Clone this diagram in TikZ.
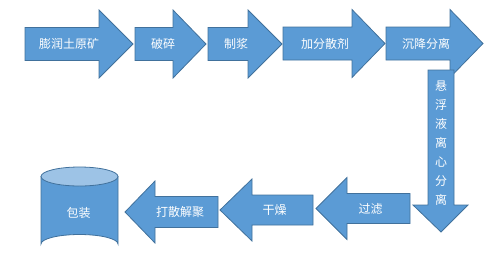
\documentclass[tikz,border=0pt]{standalone}
\usepackage{fontspec}
\newfontfamily\cjk{Noto Sans CJK SC}
\definecolor{afill}{HTML}{5B9BD5}
\definecolor{aline}{HTML}{41719C}
\definecolor{atop}{HTML}{9DC3E6}
\tikzset{
  arrowshape/.style={fill=afill,draw=aline,line width=0.8pt,line join=miter},
  lbl/.style={text=white,font=\cjk\fontsize{12}{14}\selectfont,inner sep=0pt},
}
% arrow: x0 body start, x1 head base, x2 tip, yc center, bh body half, hh head half
\newcommand{\harr}[6]{\path[arrowshape] (#1,#4-#5) -- (#2,#4-#5) -- (#2,#4-#6) -- (#3,#4) -- (#2,#4+#6) -- (#2,#4+#5) -- (#1,#4+#5) -- cycle;}
\begin{document}
\begin{tikzpicture}[x=1pt,y=-1pt]
\useasboundingbox (0,0) rectangle (500,269);
% top row
\harr{25}{99}{133}{44}{16.5}{34}
\harr{135}{173}{206}{44}{16.5}{34}
\harr{208}{248}{282}{44}{16.5}{34}
\harr{283}{352}{385}{43.5}{16.5}{34}
\harr{386}{450}{483}{43.5}{16.5}{34}
% vertical arrow
\path[arrowshape] (428,70) -- (454,70) -- (454,205) -- (468,205) -- (441,232) -- (413,205) -- (428,205) -- cycle;
% bottom row (left-pointing)
\harr{410}{347}{316}{208.5}{15}{31}
\harr{313}{252}{220}{210}{15}{31}
\harr{218}{155}{125}{212}{15.5}{31}
% cylinder
\path[arrowshape] (41,176.5) -- (41,244) arc[start angle=180,end angle=360,x radius=38.5,y radius=9.5] -- (118,176.5) -- cycle;
\path[arrowshape,fill=atop] (79.5,176.5) ellipse[x radius=38.5,y radius=9.5];
% labels
\node[lbl] (n1) at (69,44) {膨润土原矿};
\node[lbl] (n2) at (163,44) {破碎};
\node[lbl] (n3) at (236,44) {制浆};
\node[lbl] (n4) at (325,44) {加分散剂};
\node[lbl] (n5) at (426,44) {沉降分离};
\node[lbl,align=center,font=\cjk\fontsize{12}{19}\selectfont] (n6) at (441,143) {悬\\浮\\液\\离\\心\\分\\离};
\node[lbl] (n7) at (370.5,209) {过滤};
\node[lbl] (n8) at (274.5,210) {干燥};
\node[lbl] (n9) at (180,212) {打散解聚};
\node[lbl] (n10) at (78.5,213) {包装};
\end{tikzpicture}
\end{document}
